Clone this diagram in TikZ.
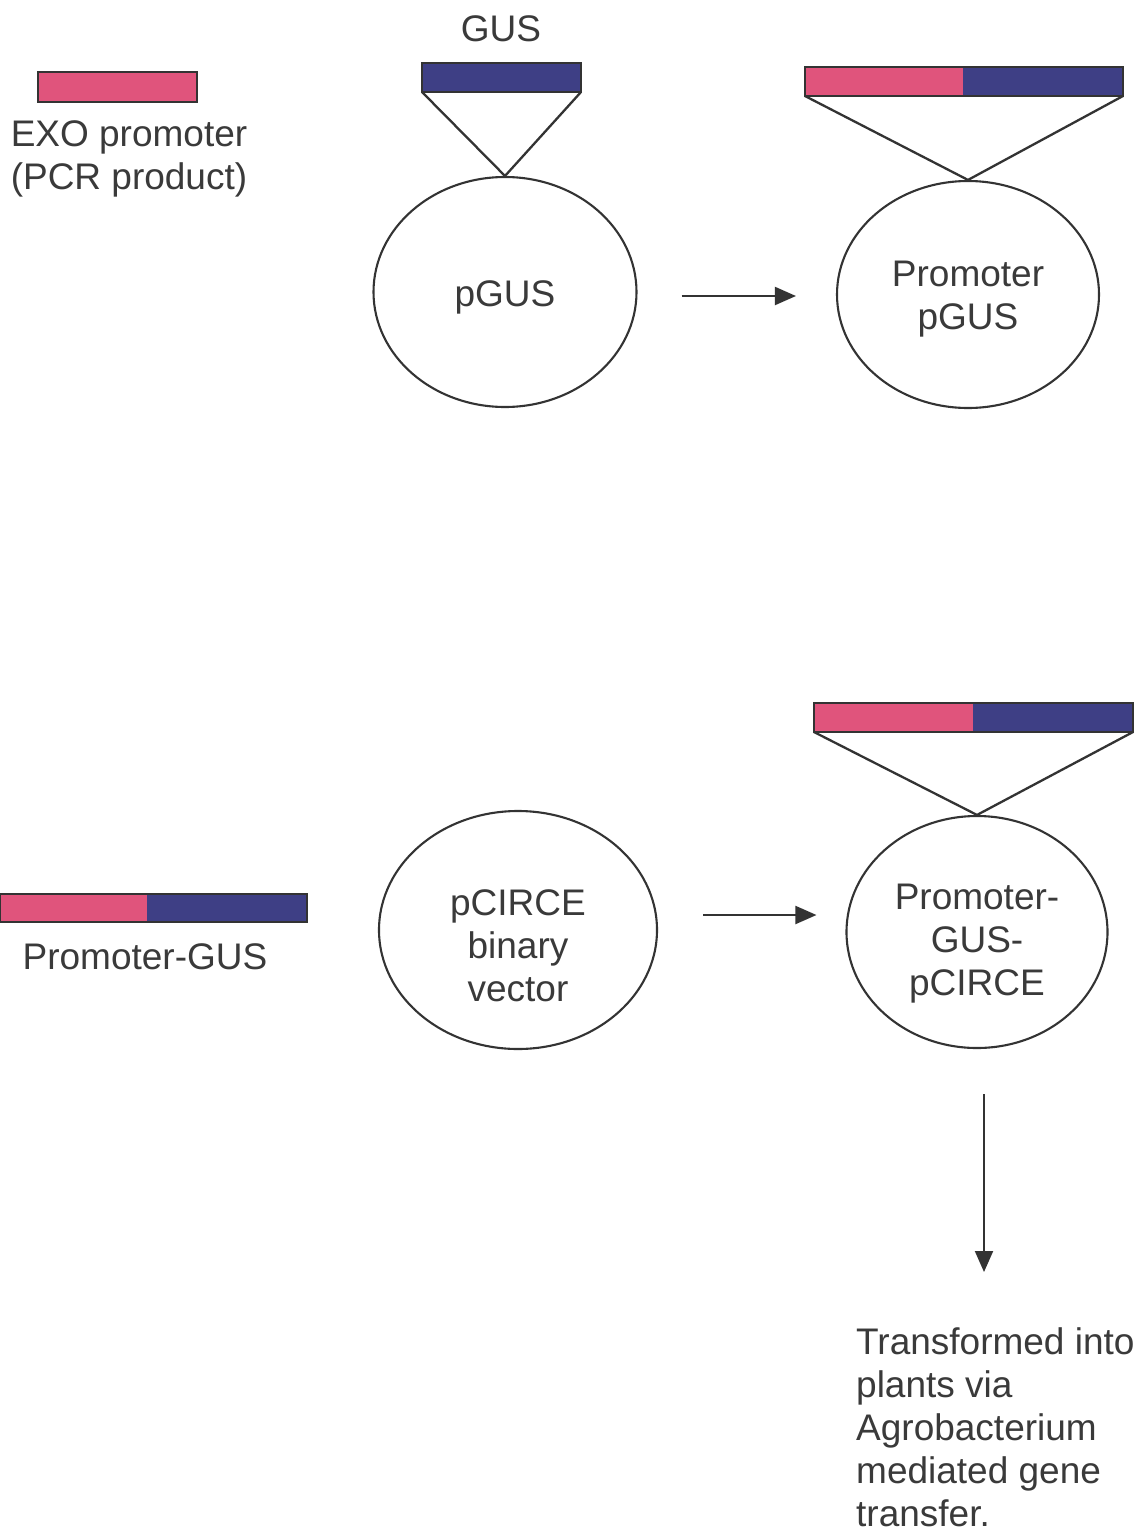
\documentclass[tikz,border=0pt]{standalone}
\usepackage{fontspec}
\setmainfont{Liberation Sans}
\usetikzlibrary{shapes.geometric,arrows.meta}
\definecolor{pinkc}{HTML}{E0547C}
\definecolor{bluec}{HTML}{3E3F85}
\definecolor{ink}{HTML}{333333}
\definecolor{txt}{HTML}{3A3A3A}
\begin{document}
\begin{tikzpicture}[x=1pt,y=-1pt,
  lbl/.style={font=\fontsize{37}{43}\selectfont, text=txt, inner sep=0pt, align=center},
  plasmid/.style={ellipse, draw=ink, line width=2.1pt, inner sep=0pt},
  seg/.style={rectangle, inner sep=0pt, outer sep=0pt, anchor=north west},
  outline/.style={draw=ink, line width=2.5pt},
  link/.style={draw=ink, line width=2.3pt},
  arr/.style={draw=ink, line width=2pt, -{Triangle[length=21pt,width=18pt]}}]
\useasboundingbox (0,0) rectangle (1145,1531);
\fill[white] (0,0) rectangle (1145,1531);

% ---- top left: EXO promoter PCR product
\node[seg, fill=pinkc, minimum width=159pt, minimum height=30pt] (exo) at (38,72) {};
\draw[outline] (exo.north west) rectangle (exo.south east);
\node[lbl] (exotxt) at (129,159) {EXO promoter\\(PCR product)};

% ---- GUS into pGUS
\node[lbl] (gustxt) at (501,29) {GUS};
\node[seg, fill=bluec, minimum width=159pt, minimum height=29pt] (gus) at (422,63) {};
\draw[outline] (gus.north west) rectangle (gus.south east);
\node[plasmid, minimum width=263pt, minimum height=230pt] (pgus) at (505,292) {};
\node[lbl] (pgustxt) at ([yshift=-5pt]pgus.center) {pGUS};
\draw[link] (gus.south west) -- (pgus.north) -- (gus.south east);

% ---- Promoter pGUS
\node[plasmid, minimum width=262pt, minimum height=227pt] (ppgus) at (968,294.5) {};
\node[lbl] (ppgustxt) at ([yshift=-5pt]ppgus.center) {Promoter\\pGUS};
\node[seg, fill=pinkc, minimum width=158pt, minimum height=29pt] (pp1) at (805,67) {};
\node[seg, fill=bluec, minimum width=160pt, minimum height=29pt] (pp2) at (pp1.north east) {};
\draw[outline] (pp1.north west) rectangle (pp2.south east);
\draw[link] (pp1.south west) -- (ppgus.north) -- (pp2.south east);
\draw[arr] ([shift={(44,4)}]pgus.east) -- ([shift={(-40,1.5)}]ppgus.west);

% ---- Promoter-GUS fragment
\node[seg, fill=pinkc, minimum width=147pt, minimum height=28pt] (pg1) at (0,894) {};
\node[seg, fill=bluec, minimum width=160pt, minimum height=28pt] (pg2) at (pg1.north east) {};
\draw[outline] (pg1.north west) rectangle (pg2.south east);
\node[lbl] (pgtxt) at (145,957) {Promoter-GUS};

% ---- pCIRCE binary vector
\node[plasmid, minimum width=278pt, minimum height=238pt] (pcirce) at (518,930) {};
\node[lbl] (pcircetxt) at ([yshift=-16pt]pcirce.center) {pCIRCE\\binary\\vector};

% ---- Promoter-GUS-pCIRCE
\node[plasmid, minimum width=261pt, minimum height=232pt] (pgp) at (977,932) {};
\node[lbl] (pgptxt) at ([yshift=-12pt]pgp.center) {Promoter-\\GUS-\\pCIRCE};
\node[seg, fill=pinkc, minimum width=159pt, minimum height=29pt] (pc1) at (814,703) {};
\node[seg, fill=bluec, minimum width=160pt, minimum height=29pt] (pc2) at (pc1.north east) {};
\draw[outline] (pc1.north west) rectangle (pc2.south east);
\draw[link] (pc1.south west) -- (pgp.north) -- (pc2.south east);
\draw[arr] ([shift={(45,-15)}]pcirce.east) -- ([shift={(-29,-17)}]pgp.west);

% ---- transformation
\node[lbl, align=left, anchor=north west] (trans) at (856,1327)
  {Transformed into\\plants via\\Agrobacterium\\mediated gene\\transfer.};
\coordinate (tip) at (984,1272);
\draw[arr] ([shift={(7,45)}]pgp.south) -- (tip);
\end{tikzpicture}
\end{document}
